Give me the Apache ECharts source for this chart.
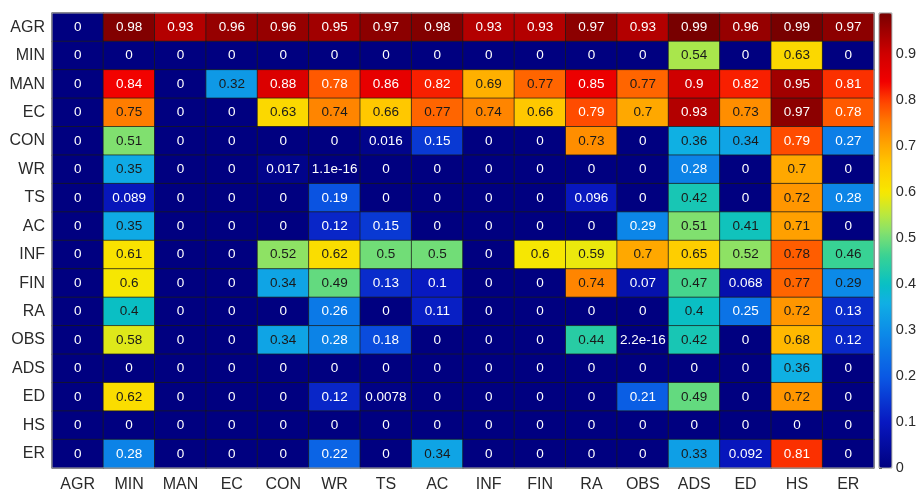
<!DOCTYPE html>
<html>
<head>
<meta charset="utf-8">
<script src="https://cdn.jsdelivr.net/npm/echarts@6/dist/echarts.min.js"></script>
<style>
  html, body { margin: 0; padding: 0; background: #fff; }
  #chart { width: 919px; height: 493px; }
</style>
</head>
<body>
<div id="chart"></div>
<script>
// sectors, same order on both axes
const sectors = ['AGR', 'MIN', 'MAN', 'EC', 'CON', 'WR', 'TS', 'AC', 'INF', 'FIN', 'RA', 'OBS', 'ADS', 'ED', 'HS', 'ER'];

// one array per row (top to bottom), values per column (left to right)
const rowAGR = [0, 0.98, 0.93, 0.96, 0.96, 0.95, 0.97, 0.98, 0.93, 0.93, 0.97, 0.93, 0.99, 0.96, 0.99, 0.97];
const rowMIN = [0, 0, 0, 0, 0, 0, 0, 0, 0, 0, 0, 0, 0.54, 0, 0.63, 0];
const rowMAN = [0, 0.84, 0, 0.32, 0.88, 0.78, 0.86, 0.82, 0.69, 0.77, 0.85, 0.77, 0.9, 0.82, 0.95, 0.81];
const rowEC  = [0, 0.75, 0, 0, 0.63, 0.74, 0.66, 0.77, 0.74, 0.66, 0.79, 0.7, 0.93, 0.73, 0.97, 0.78];
const rowCON = [0, 0.51, 0, 0, 0, 0, 0.016, 0.15, 0, 0, 0.73, 0, 0.36, 0.34, 0.79, 0.27];
const rowWR  = [0, 0.35, 0, 0, 0.017, 1.1e-16, 0, 0, 0, 0, 0, 0, 0.28, 0, 0.7, 0];
const rowTS  = [0, 0.089, 0, 0, 0, 0.19, 0, 0, 0, 0, 0.096, 0, 0.42, 0, 0.72, 0.284];
const rowAC  = [0, 0.35, 0, 0, 0, 0.12, 0.15, 0, 0, 0, 0, 0.286, 0.51, 0.41, 0.71, 0];
const rowINF = [0, 0.61, 0, 0, 0.52, 0.62, 0.5, 0.5, 0, 0.6, 0.59, 0.7, 0.65, 0.52, 0.776, 0.46];
const rowFIN = [0, 0.6, 0, 0, 0.34, 0.49, 0.13, 0.1, 0, 0, 0.74, 0.07, 0.47, 0.068, 0.77, 0.292];
const rowRA  = [0, 0.4, 0, 0, 0, 0.26, 0, 0.11, 0, 0, 0, 0, 0.4, 0.25, 0.72, 0.13];
const rowOBS = [0, 0.58, 0, 0, 0.34, 0.28, 0.18, 0, 0, 0, 0.44, 2.2e-16, 0.42, 0, 0.68, 0.12];
const rowADS = [0, 0, 0, 0, 0, 0, 0, 0, 0, 0, 0, 0, 0, 0, 0.36, 0];
const rowED  = [0, 0.62, 0, 0, 0, 0.12, 0.0078, 0, 0, 0, 0, 0.21, 0.49, 0, 0.72, 0];
const rowHS  = [0, 0, 0, 0, 0, 0, 0, 0, 0, 0, 0, 0, 0, 0, 0, 0];
const rowER  = [0, 0.28, 0, 0, 0, 0.22, 0, 0.34, 0, 0, 0, 0, 0.33, 0.092, 0.81, 0];

// colorbar
const barMin = 0;
const barMax = 0.99;
const barTicks = [0, 0.1, 0.2, 0.3, 0.4, 0.5, 0.6, 0.7, 0.8, 0.9];

const rows = [rowAGR, rowMIN, rowMAN, rowEC, rowCON, rowWR, rowTS, rowAC, rowINF, rowFIN, rowRA, rowOBS, rowADS, rowED, rowHS, rowER];

// jet-like map, stops at fraction of the range
const stops = [
  [0, '#000080'], [0.10, '#0818c0'], [0.20, '#0a58e4'], [0.30, '#0c8ce8'],
  [0.364, '#10b0e4'], [0.404, '#08c0c4'], [0.465, '#38d294'], [0.515, '#80e070'],
  [0.556, '#b8e840'], [0.606, '#f8e800'], [0.667, '#ffc800'], [0.707, '#ffa800'],
  [0.758, '#ff7c00'], [0.808, '#ff4000'], [0.848, '#f20000'], [0.909, '#d00000'],
  [0.96, '#a00000'], [1, '#780000']
];
const hex = s => [1, 3, 5].map(i => parseInt(s.substr(i, 2), 16));
const colormap = [];
for (let i = 0; i <= 120; i++) {
  const t = i / 120;
  let k = 0;
  while (k < stops.length - 2 && stops[k + 1][0] < t) k++;
  const [p0, c0] = stops[k], [p1, c1] = stops[k + 1];
  const f = Math.min(1, Math.max(0, (t - p0) / (p1 - p0)));
  const a = hex(c0), b = hex(c1);
  colormap.push('rgb(' + a.map((v, j) => Math.round(v + (b[j] - v) * f)).join(',') + ')');
}

const font = 'Liberation Sans, Arial, Helvetica, sans-serif';

// matlab style %.2g
const fmt = v => v === 0 ? '0' : String(Number(v.toPrecision(2)));

const cells = [];
rows.forEach((row, y) => {
  row.forEach((v, x) => {
    const dark = v >= 0.29 && v < 0.777;
    cells.push({
      value: [x, y, v],
      label: { color: dark ? '#1a1a1a' : '#ffffff' }
    });
  });
});

const myChart = echarts.init(document.getElementById('chart'));
myChart.setOption({
  animation: false,
  textStyle: { fontFamily: font },
  grid: [
    { left: 52, top: 13, width: 822, height: 455, show: true, borderColor: '#aaa', borderWidth: 1, backgroundColor: 'transparent', z: 10 },
    { left: 879, top: 13, width: 13, height: 455, show: true, borderColor: '#999', borderWidth: 1, backgroundColor: 'transparent', z: 10 }
  ],
  xAxis: [
    {
      type: 'category', data: sectors, gridIndex: 0, position: 'bottom',
      axisLine: { show: false }, axisTick: { show: false },
      axisLabel: { fontSize: 16, color: '#2a2a2a', margin: 9, fontFamily: font },
      splitLine: { show: false }
    },
    { type: 'value', gridIndex: 1, show: false, min: 0, max: 1 }
  ],
  yAxis: [
    {
      type: 'category', data: sectors, gridIndex: 0, inverse: true,
      axisLine: { show: false }, axisTick: { show: false },
      axisLabel: { fontSize: 16, color: '#2a2a2a', margin: 7, fontFamily: font },
      splitLine: { show: false }
    },
    {
      type: 'value', gridIndex: 1, position: 'right', min: barMin, max: barMax,
      axisLine: { show: false },
      axisTick: { show: true, length: 3, lineStyle: { color: '#333' }, customValues: barTicks },
      axisLabel: { fontSize: 14.5, color: '#2a2a2a', margin: 4, fontFamily: font, customValues: barTicks },
      splitLine: { show: false }
    }
  ],
  visualMap: {
    type: 'continuous',
    min: barMin, max: barMax,
    seriesIndex: 0,
    calculable: false,
    hoverLink: false,
    orient: 'vertical',
    left: 879, top: 13,
    itemWidth: 13, itemHeight: 455,
    padding: 0,
    text: null,
    showLabel: false,
    inRange: { color: colormap }
  },
  series: [{
    type: 'heatmap',
    xAxisIndex: 0, yAxisIndex: 0,
    data: cells,
    label: {
      show: true,
      fontSize: 13.5,
      fontFamily: font,
      formatter: p => fmt(p.value[2])
    },
    itemStyle: { borderColor: 'rgba(25,25,25,0.7)', borderWidth: 1 }
  }]
});
</script>
</body>
</html>
